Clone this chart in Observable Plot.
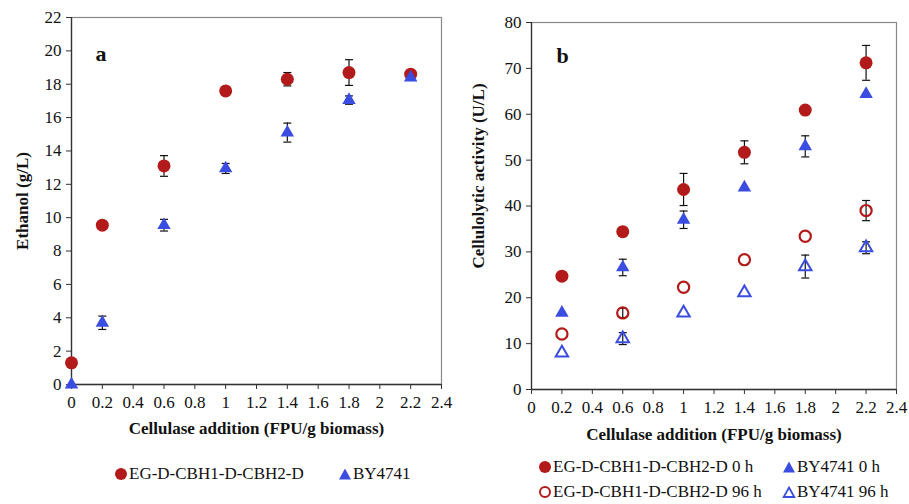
<!DOCTYPE html>
<html>
<head>
<meta charset="utf-8">
<script src="https://cdn.jsdelivr.net/npm/d3@7"></script>
<script src="https://cdn.jsdelivr.net/npm/@observablehq/plot@0.6"></script>
<style>
  html, body { margin: 0; padding: 0; background: white; }
  #wrap { position: relative; width: 909px; height: 504px; font-family: "Liberation Serif", serif; color: #111; }
  .panel { position: absolute; top: 0; }
  .panel svg, .panel svg text { font-family: "Liberation Serif", serif !important; }
  .leg { position: absolute; display: flex; align-items: center; font-size: 17px; white-space: nowrap; line-height: 1; }
  .leg svg { margin-right: 1px; }
</style>
</head>
<body>
<div id="wrap"></div>
<script>
// ---------- data ----------
const xA = [0, 0.2, 0.6, 1, 1.4, 1.8, 2.2];
const ethanolEG = [1.3, 9.55, 13.1, 17.6, 18.3, 18.7, 18.6];
const ethanolEGErr = [0, 0, 0.62, 0, 0.4, 0.77, 0];
const ethanolBY = [0.0, 3.7, 9.55, 12.95, 15.1, 17.05, 18.4];
const ethanolBYErr = [0, 0.4, 0.35, 0.3, 0.57, 0.25, 0];

const xB = [0.2, 0.6, 1, 1.4, 1.8, 2.2];
const actEG0 = [24.7, 34.4, 43.6, 51.7, 60.9, 71.2];
const actEG0Err = [0, 0, 3.5, 2.5, 0, 3.8];
const actBY0 = [16.7, 26.6, 37.0, 44.0, 53.0, 64.4];
const actBY0Err = [0, 1.8, 1.9, 0, 2.3, 0];
const actEG96 = [12.1, 16.7, 22.3, 28.3, 33.4, 39.0];
const actEG96Err = [0, 1.0, 0, 0, 0, 2.2];
const actBY96 = [8.0, 11.1, 16.7, 21.1, 26.8, 30.9];
const actBY96Err = [0, 1.3, 0, 0, 2.5, 1.3];

const xTicks = [0, 0.2, 0.4, 0.6, 0.8, 1, 1.2, 1.4, 1.6, 1.8, 2, 2.2, 2.4];
const yTicksA = [0, 2, 4, 6, 8, 10, 12, 14, 16, 18, 20, 22];
const yTicksB = [0, 10, 20, 30, 40, 50, 60, 70, 80];

const labelEG = "EG-D-CBH1-D-CBH2-D";
const labelBY = "BY4741";
const RED = "#b31b1b";
const BLUE = "#3a4de0";
const FONT = "Liberation Serif";

// ---------- helpers ----------
const fmt = d => String(+d.toFixed(1));
const cap = { draw(ctx) { ctx.moveTo(-4, 0); ctx.lineTo(4, 0); } };

function series(xs, ys, errs, opts) {
  const rows = xs.map((x, i) => ({ x, y: ys[i], e: errs[i], lo: ys[i] - errs[i], hi: ys[i] + errs[i] }));
  const eb = rows.filter(d => d.e > 0);
  return [
    Plot.ruleX(eb, { x: "x", y1: "lo", y2: "hi", stroke: "#111", strokeWidth: 1.2 }),
    Plot.dot(eb, { x: "x", y: "hi", symbol: cap, stroke: "#111", fill: "none", strokeWidth: 1.2 }),
    Plot.dot(eb, { x: "x", y: "lo", symbol: cap, stroke: "#111", fill: "none", strokeWidth: 1.2 }),
    Plot.dot(rows, { x: "x", y: "y", ...opts })
  ];
}
const filledCircle = { symbol: "circle", fill: RED, stroke: "none", r: 6.5 };
const filledTri = { symbol: "triangle", fill: BLUE, stroke: "none", r: 5 };
const openCircle = { symbol: "circle", fill: "none", stroke: RED, strokeWidth: 2.2, r: 5.6 };
const openTri = { symbol: "triangle", fill: "none", stroke: BLUE, strokeWidth: 2, r: 4.6 };

function panel({ width, height, ml, mr, mt, mb, yDomain, yTicks, yLabel, yLabelDx, yLabelDy, xLabelDy, letter, letterDx, letterDy, marks }) {
  return Plot.plot({
    width, height,
    marginLeft: ml, marginRight: mr, marginTop: mt, marginBottom: mb,
    style: `font-family: '${FONT}', serif; font-size: 17px; color: #111; background: white; overflow: visible;`,
    x: { domain: [0, 2.4] },
    y: { domain: yDomain },
    marks: [
      Plot.frame({ stroke: "#888", strokeWidth: 1.2 }),
      Plot.axisX({ ticks: xTicks, tickSize: 5, tickPadding: 6, tickFormat: fmt, label: null, stroke: "#333", fontFamily: FONT, fontSize: 17 }),
      Plot.axisY({ ticks: yTicks, tickSize: 5, tickPadding: 5, tickFormat: fmt, label: null, stroke: "#333", fontFamily: FONT, fontSize: 17 }),
      Plot.ruleX([0], { stroke: "#333", strokeWidth: 1.3 }),
      Plot.ruleY([yDomain[0]], { stroke: "#333", strokeWidth: 1.3 }),
      Plot.text([yLabel], { frameAnchor: "left", textAnchor: "middle", rotate: -90, dx: yLabelDx, dy: yLabelDy, fontWeight: "bold", fontSize: 17, fontFamily: FONT }),
      Plot.text(["Cellulase addition (FPU/g biomass)"], { frameAnchor: "bottom", textAnchor: "middle", dy: xLabelDy, fontWeight: "bold", fontSize: 17, fontFamily: FONT }),
      Plot.text([letter], { frameAnchor: "top-left", dx: letterDx, dy: letterDy, fontWeight: "bold", fontSize: 22, fontFamily: FONT }),
      ...marks
    ]
  });
}

const wrap = document.getElementById("wrap");

const pa = panel({
  width: 455, height: 440, ml: 71, mr: 14, mt: 17, mb: 56,
  yDomain: [0, 22], yTicks: yTicksA, yLabel: "Ethanol (g/L)", yLabelDx: -49, yLabelDy: 0, xLabelDy: 49,
  letter: "a", letterDx: 24, letterDy: 28,
  marks: [
    ...series(xA, ethanolEG, ethanolEGErr, filledCircle),
    ...series(xA, ethanolBY, ethanolBYErr, filledTri)
  ]
});
const da = document.createElement("div");
da.className = "panel"; da.style.left = "0px";
da.appendChild(pa); wrap.appendChild(da);

const pb = panel({
  width: 454, height: 445, ml: 76, mr: 13, mt: 22, mb: 56,
  yDomain: [0, 80], yTicks: yTicksB, yLabel: "Cellulolytic activity (U/L)", yLabelDx: -53, yLabelDy: -30, xLabelDy: 50,
  letter: "b", letterDx: 25, letterDy: 25,
  marks: [
    ...series(xB, actEG96, actEG96Err, openCircle),
    ...series(xB, actBY96, actBY96Err, openTri),
    ...series(xB, actBY0, actBY0Err, filledTri),
    ...series(xB, actEG0, actEG0Err, filledCircle)
  ]
});
const db = document.createElement("div");
db.className = "panel"; db.style.left = "455px";
db.appendChild(pb); wrap.appendChild(db);

// ---------- legends ----------
function sym(kind) {
  const s = { circle: `<circle cx="7" cy="7" r="6" fill="${RED}"/>`,
              ocircle: `<circle cx="7" cy="7" r="5" fill="none" stroke="${RED}" stroke-width="2"/>`,
              tri: `<path d="M7,1.5 L13,12.5 L1,12.5 Z" fill="${BLUE}"/>`,
              otri: `<path d="M7,2.5 L12.3,12 L1.7,12 Z" fill="none" stroke="${BLUE}" stroke-width="1.8"/>` }[kind];
  return `<svg width="14" height="14" viewBox="0 0 14 14">${s}</svg>`;
}
function legend(left, top, kind, text) {
  const el = document.createElement("div");
  el.className = "leg";
  el.style.left = left + "px"; el.style.top = top + "px";
  el.innerHTML = sym(kind) + `<span>${text}</span>`;
  wrap.appendChild(el);
}
legend(114, 465, "circle", labelEG);
legend(338, 465, "tri", labelBY);
legend(538, 458, "circle", labelEG + " 0 h");
legend(782, 458, "tri", labelBY + " 0 h");
legend(538, 483, "ocircle", labelEG + " 96 h");
legend(782, 483, "otri", labelBY + " 96 h");
</script>
</body>
</html>
